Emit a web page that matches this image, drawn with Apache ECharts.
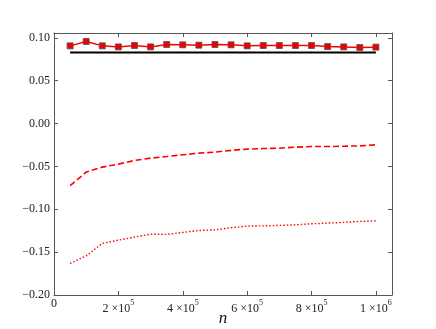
<!DOCTYPE html>
<html><head><meta charset="utf-8">
<script src="https://cdn.jsdelivr.net/npm/echarts@6/dist/echarts.min.js"></script>
<style>html,body{margin:0;padding:0;background:#fff}#c{width:436px;height:329px}</style>
</head><body><div id="c"></div>
<script>
const nValues = [50000,100000,150000,200000,250000,300000,350000,400000,450000,500000,550000,600000,650000,700000,750000,800000,850000,900000,950000,1000000];
const squareSeries = [0.0907,0.0958,0.0907,0.0895,0.0911,0.0895,0.0923,0.0919,0.0915,0.0923,0.0919,0.0907,0.0911,0.0911,0.0911,0.0911,0.0899,0.0895,0.0888,0.0892];
const referenceLevel = [0.083,0.083];
const referenceX = [50000,1000000];
const dashedSeries = [-0.0725,-0.0566,-0.0508,-0.0473,-0.0430,-0.0403,-0.0384,-0.0364,-0.0345,-0.0333,-0.0312,-0.0298,-0.0291,-0.0287,-0.0275,-0.0268,-0.0268,-0.0264,-0.0260,-0.0248];
const dottedSeries = [-0.1632,-0.1543,-0.1398,-0.1360,-0.1325,-0.1290,-0.1293,-0.1270,-0.1247,-0.1240,-0.1216,-0.1196,-0.1193,-0.1188,-0.1181,-0.1169,-0.1161,-0.1153,-0.1141,-0.1134];
const yTicks = [-0.20,-0.15,-0.10,-0.05,0.00,0.05,0.10];
const xTickExp = {0:'0',200000:'2 ×10|5',400000:'4 ×10|5',600000:'6 ×10|5',800000:'8 ×10|5',1000000:'1 ×10|6'};

const FONT = 'Liberation Serif';
const frame = '#555';
const chart = echarts.init(document.getElementById('c'), null, {renderer:'canvas'});
const pair = (xs, ys) => xs.map((x,i)=>[x, ys[i]]);
const fmtY = v => {
  const t = yTicks.find(t => Math.abs(t - v) < 1e-6);
  if (t === undefined) return '';
  const s = Math.abs(t).toFixed(2);
  return (t < -1e-9 ? '\u2212' : '') + s;
};
const fmtX = v => {
  const k = Object.keys(xTickExp).find(k => Math.abs(+k - v) < 1);
  if (k === undefined) return '';
  const p = xTickExp[k].split('|');
  return p.length === 1 ? '{z|' + p[0] + '}' : '{a|' + p[0] + '}{s|' + p[1] + '}';
};
const tick = {show:true, inside:true, length:4, lineStyle:{color:frame, width:1}};
chart.setOption({
  animation:false,
  grid:{left:54, right:44, top:33, bottom:34, outerBoundsMode:'none', containLabel:false},
  xAxis:[
    {type:'value', min:0, max:1050000, interval:200000, position:'bottom',
     axisLine:{show:true, onZero:false, lineStyle:{color:frame, width:1}},
     axisTick:tick, splitLine:{show:false},
     axisLabel:{formatter:fmtX, margin:3, color:'#222', fontFamily:FONT, verticalAlign:'top',
       rich:{z:{fontSize:12, lineHeight:12, fontFamily:FONT, color:'#222'},
             a:{fontSize:12, lineHeight:12, fontFamily:FONT, color:'#222', verticalAlign:'top', padding:[5,0,0,0]},
             s:{fontSize:8, lineHeight:8, fontFamily:FONT, color:'#222', verticalAlign:'top', padding:[1,0,0,0]}}},
     name:'n', nameLocation:'middle', nameGap:15, nameMoveOverlap:false,
     nameTextStyle:{fontFamily:FONT, fontStyle:'italic', fontSize:17, color:'#111', verticalAlign:'top'}},
    {type:'value', min:0, max:1050000, interval:200000, position:'top',
     axisLine:{show:true, onZero:false, lineStyle:{color:frame, width:1}},
     axisTick:tick, axisLabel:{show:false}, splitLine:{show:false}}
  ],
  yAxis:[
    {type:'value', min:-0.2, max:0.1057, interval:0.05, position:'left',
     axisLine:{show:true, onZero:false, lineStyle:{color:frame, width:1}},
     axisTick:tick, splitLine:{show:false},
     axisLabel:{formatter:fmtY, margin:4, fontSize:12, fontFamily:FONT, color:'#222'}},
    {type:'value', min:-0.2, max:0.1057, interval:0.05, position:'right',
     axisLine:{show:true, onZero:false, lineStyle:{color:frame, width:1}},
     axisTick:tick, axisLabel:{show:false}, splitLine:{show:false}}
  ],
  series:[
    {type:'line', data:pair(referenceX, referenceLevel), showSymbol:false, symbol:'none',
     lineStyle:{color:'#000', width:2}, z:2},
    {type:'line', data:pair(nValues, squareSeries), symbol:'rect', symbolSize:6, showSymbol:true,
     lineStyle:{color:'#ff0000', width:1.5}, itemStyle:{color:'#ee0000', borderColor:'#555', borderWidth:0.8}, z:3},
    {type:'line', data:pair(nValues, dashedSeries), symbol:'none',
     lineStyle:{color:'#ff0000', width:1.6, type:[6,3]}},
    {type:'line', data:pair(nValues, dottedSeries), symbol:'none',
     lineStyle:{color:'#ff0000', width:1.4, type:[1.5,2]}}
  ]
});
</script></body></html>
